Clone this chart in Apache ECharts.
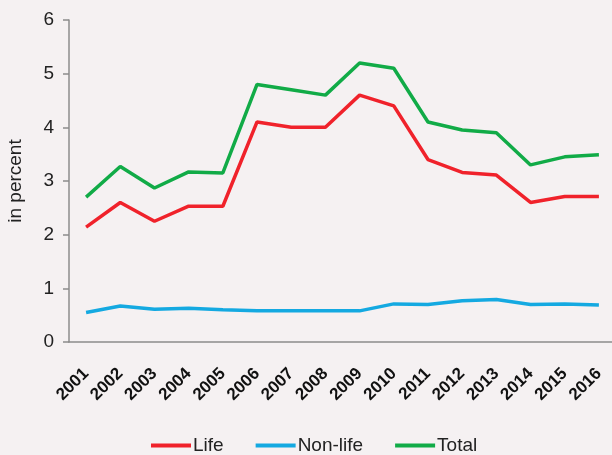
<!DOCTYPE html>
<html><head><meta charset="utf-8">
<script src="https://cdn.jsdelivr.net/npm/echarts@6/dist/echarts.min.js"></script>
<style>html,body{margin:0;padding:0;background:#f5f1f2;}#c{width:612px;height:455px;}</style>
</head><body><div id="c"></div>
<script>
const years = ['2001','2002','2003','2004','2005','2006','2007','2008','2009','2010','2011','2012','2013','2014','2015','2016'];
const life = [2.14,2.6,2.25,2.53,2.53,4.1,4.0,4.0,4.6,4.4,3.4,3.16,3.11,2.6,2.71,2.71];
const nonLife = [0.55,0.67,0.61,0.63,0.6,0.58,0.58,0.58,0.58,0.71,0.7,0.77,0.79,0.7,0.71,0.69];
const total = [2.7,3.27,2.87,3.17,3.15,4.8,4.7,4.6,5.2,5.1,4.1,3.95,3.9,3.3,3.45,3.49];
const yTicks = [0,1,2,3,4,5,6];

const chart = echarts.init(document.getElementById('c'), null, {renderer:'canvas'});
const font = 'Liberation Sans, Arial, sans-serif';
chart.setOption({
  backgroundColor:'#f5f1f2',
  animation:false,
  grid:{left:69,top:20,right:-4,bottom:113,containLabel:false,outerBoundsMode:'none'},
  legend:{
    top:431,left:146,
    data:['Life','Non-life','Total'],
    icon:'rect',itemWidth:40,itemHeight:4,itemGap:32,
    textStyle:{fontFamily:font,fontSize:19,color:'#222',padding:[0,0,0,-3]}
  },
  xAxis:{
    type:'category',data:years,boundaryGap:true,
    axisLine:{lineStyle:{color:'#8c8c8c',width:1.5}},
    axisTick:{length:6,lineStyle:{color:'#8c8c8c',width:1.5}},
    axisLabel:{rotate:45,fontFamily:font,fontSize:17,fontWeight:'bold',color:'#111',margin:29,interval:0}
  },
  yAxis:{
    type:'value',min:yTicks[0],max:yTicks[yTicks.length-1],interval:1,
    name:'in percent',nameLocation:'middle',nameGap:44,nameRotate:90,
    nameTextStyle:{fontFamily:font,fontSize:19,color:'#222'},
    axisLine:{show:true,lineStyle:{color:'#8c8c8c',width:1.5}},
    axisTick:{show:true,length:6,lineStyle:{color:'#8c8c8c',width:1.5}},
    splitLine:{show:false},
    axisLabel:{fontFamily:font,fontSize:19,color:'#222',margin:15}
  },
  series:[
    {name:'Life',type:'line',data:life,symbol:'none',color:'#f0222b',lineStyle:{width:3.5}},
    {name:'Non-life',type:'line',data:nonLife,symbol:'none',color:'#14a9e1',lineStyle:{width:3.5}},
    {name:'Total',type:'line',data:total,symbol:'none',color:'#11ab47',lineStyle:{width:3.5}}
  ]
});
</script></body></html>
